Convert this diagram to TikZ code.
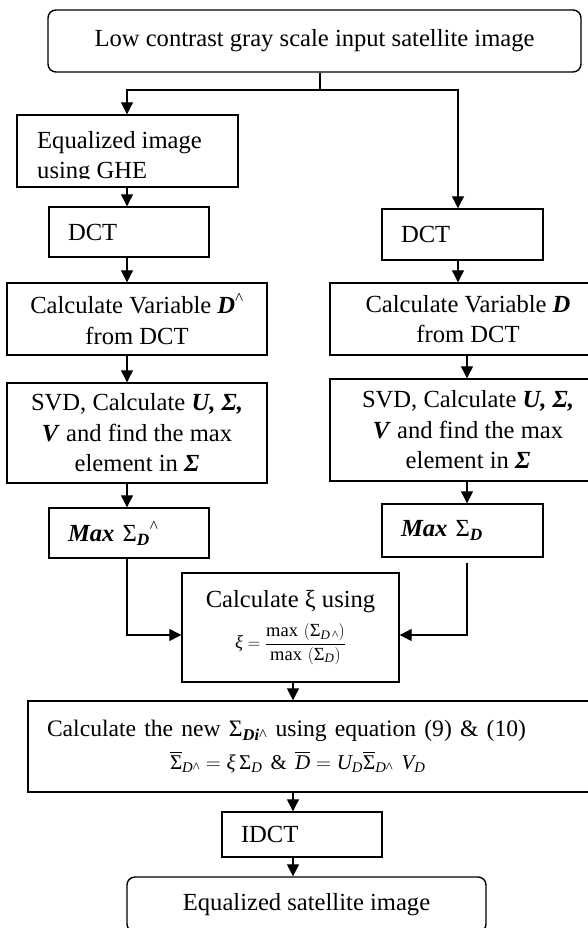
\documentclass[tikz,border=0pt]{standalone}
\usepackage{amsmath}
\usepackage{fontspec}
\setmainfont{Liberation Serif}
\usepackage{tikz}
\usetikzlibrary{arrows.meta}
\newcommand{\bitxt}[1]{\textbf{\textit{#1}}}

\begin{document}
\begin{tikzpicture}[x=1pt, y=-1pt,
  every node/.style={font=\fontsize{24.6}{30.5}\selectfont},
  box/.style={draw, line width=1.4pt, inner sep=0pt, align=center},
  lbox/.style={box, inner xsep=19pt, align=left},
  rbox/.style={box, rounded corners=8pt},
  arr/.style={line width=1.2pt, -{Triangle[length=12pt, width=12pt]}}]
  \useasboundingbox (0,0) rectangle (587,928);
  \node[rbox, minimum width=533pt, minimum height=62pt] (top) at (314.5,41) {Low contrast gray scale input satellite image};
  \node[box, minimum width=221pt, minimum height=72pt] (ghe) at (127.5,151) {};
  \begin{scope}
    \clip (17,115) rectangle (238,178.5);
    \node[anchor=north west, inner sep=0pt, align=left] (ghetxt) at (37,131.2) {Equalized image\\using GHE};
  \end{scope}
  \node[lbox, minimum width=160pt, minimum height=50pt, text width=122pt] (dctL) at (129,232) {DCT};
  \node[lbox, minimum width=161pt, minimum height=51pt, text width=123pt] (dctR) at (462.5,234.5) {DCT};
  \node[box, minimum width=260pt, minimum height=72pt] (varL) at (137,319) {Calculate Variable \bitxt{D}\textsuperscript{\textasciicircum}\\from DCT};
  \node[box, minimum width=276pt, minimum height=72pt] (varR) at (468,319) {Calculate Variable \bitxt{D}\\from DCT};
  \node[box, minimum width=260pt, minimum height=100pt] (svdL) at (137,433) {SVD, Calculate \bitxt{U, Σ,}\\\bitxt{V} and find the max\\element in \bitxt{Σ}};
  \node[box, minimum width=276pt, minimum height=102pt] (svdR) at (468,430) {SVD, Calculate \bitxt{U, Σ,}\\\bitxt{V} and find the max\\element in \bitxt{Σ}};
  \node[lbox, minimum width=160pt, minimum height=50pt, text width=122pt] (maxL) at (129,533) {\bitxt{Max} Σ\textsubscript{\bitxt{D}}\textsuperscript{\textasciicircum}};
  \node[lbox, minimum width=161pt, minimum height=53pt, text width=123pt] (maxR) at (462.5,530.5) {\bitxt{Max} Σ\textsubscript{\bitxt{D}}};
  \node[box, minimum width=217pt, minimum height=109pt] (xi) at (290.5,627.5) {Calculate ξ using\\[10pt]{\fontsize{18.5}{21}\selectfont $\textit{ξ} = \dfrac{\text{max}\,\left(\text{Σ}_{\textit{D}\,\text{\textasciicircum}}\right)}{\text{max}\,\left(\text{Σ}_{\textit{D}}\right)}$}};
  \node[lbox, minimum width=578pt, minimum height=91pt, text width=540pt] (newb) at (317,746.5) {{\fontsize{23.6}{30}\selectfont Calculate the new Σ\textsubscript{\bitxt{Di}\textasciicircum} using equation (9) \& (10)}\\[2pt]\hspace*{123pt}{\fontsize{21}{25}\selectfont $\overline{\text{Σ}}_{\textit{D}\text{\textasciicircum}} = \textit{ξ}\,\text{Σ}_{\textit{D}}$\ \& $\overline{\textit{D}} = \textit{U}_{\textit{D}}\overline{\text{Σ}}_{\textit{D}\text{\textasciicircum}}\ \textit{V}_{\textit{D}}$}};
  \node[lbox, minimum width=160pt, minimum height=45pt, text width=122pt] (idct) at (302,834.5) {IDCT};
  \node[rbox, minimum width=359pt, minimum height=55pt] (final) at (306.5,904.5) {Equalized satellite image};
  \coordinate (split) at (320,90);
  \coordinate (lc) at (127,0);
  \coordinate (rca) at (458,0);
  \coordinate (rcb) at (467,0);
  \coordinate (mc) at (293,0);
  \coordinate (join) at (0,635);
  \draw[line width=1.2pt] (top.south -| split) -- (split);
  \draw[arr] (split) -| (ghe.north -| lc);
  \draw[arr] (split) -| (dctR.north -| rca);
  \draw[arr] (ghe.south -| lc) -- (dctL.north -| lc);
  \draw[arr] (dctL.south -| lc) -- (varL.north -| lc);
  \draw[arr] (varL.south -| lc) -- (svdL.north -| lc);
  \draw[arr] (svdL.south -| lc) -- (maxL.north -| lc);
  \draw[arr] (maxL.south -| lc) |- (xi.west |- join);
  \draw[arr] (dctR.south -| rca) -- (varR.north -| rca);
  \draw[arr] (varR.south -| rcb) -- (svdR.north -| rcb);
  \draw[arr] (svdR.south -| rcb) -- (maxR.north -| rcb);
  \draw[arr, shorten <=5pt] (maxR.south -| rcb) |- (xi.east |- join);
  \draw[arr] (xi.south -| mc) -- (newb.north -| mc);
  \draw[arr] (newb.south -| mc) -- (idct.north -| mc);
  \draw[arr] (idct.south -| mc) -- (final.north -| mc);
\end{tikzpicture}
\end{document}
